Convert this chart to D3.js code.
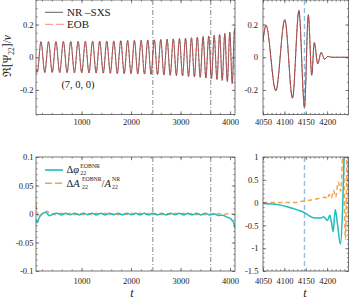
<!DOCTYPE html>
<html><head><meta charset="utf-8">
<script src="https://cdn.jsdelivr.net/npm/d3@7"></script>
<style>
body{margin:0;background:#fff}
svg{display:block}
text{font-family:"Liberation Serif","DejaVu Serif",serif;fill:#222}
</style>
</head><body>
<svg id="c" width="349" height="299"></svg>
<script>
// ---------------- data ----------------
// Inspiral waveform extrema  [t, Re(Psi22)/nu]
const nrInspiral = [[80,-0.07],[105,-0.092],[181,0.095],[257,-0.093],[333,0.095],[408,-0.093],[483,0.096],[558,-0.094],[633,0.096],[708,-0.094],[782,0.096],[856,-0.095],[930,0.097],[1004,-0.095],[1077,0.097],[1150,-0.096],[1223,0.098],[1295,-0.096],[1367,0.098],[1439,-0.097],[1510,0.099],[1581,-0.098],[1652,0.100],[1722,-0.099],[1792,0.101],[1862,-0.100],[1931,0.102],[2000,-0.101],[2068,0.103],[2136,-0.102],[2204,0.104],[2271,-0.103],[2338,0.106],[2404,-0.105],[2470,0.107],[2535,-0.106],[2600,0.109],[2664,-0.108],[2728,0.110],[2791,-0.110],[2854,0.112],[2916,-0.112],[2978,0.114],[3040,-0.114],[3101,0.116],[3161,-0.117],[3221,0.119],[3280,-0.120],[3339,0.122],[3397,-0.123],[3455,0.126],[3512,-0.127],[3569,0.130],[3625,-0.131],[3680,0.134],[3735,-0.136],[3789,0.139],[3842,-0.141],[3894,0.145],[3945,-0.148],[3995,0.153],[4044,-0.160],[4092,0.175],[4100,0.17]];
const eobInspiral = [[80,-0.07],[105,-0.092],[181,0.095],[257,-0.093],[333,0.095],[408,-0.093],[483,0.096],[558,-0.094],[633,0.096],[708,-0.094],[782,0.096],[856,-0.095],[930,0.097],[1004,-0.095],[1077,0.097],[1150,-0.096],[1223,0.098],[1295,-0.096],[1367,0.098],[1439,-0.097],[1510,0.099],[1581,-0.098],[1652,0.100],[1722,-0.099],[1792,0.101],[1862,-0.100],[1931,0.102],[2000,-0.101],[2068,0.103],[2136,-0.102],[2204,0.104],[2271,-0.103],[2338,0.106],[2404,-0.105],[2470,0.107],[2535,-0.106],[2600,0.109],[2664,-0.108],[2728,0.110],[2791,-0.110],[2854,0.112],[2916,-0.112],[2978,0.114],[3040,-0.114],[3101,0.116],[3161,-0.117],[3221,0.119],[3280,-0.120],[3339,0.122],[3397,-0.123],[3455,0.126],[3512,-0.127],[3569,0.130],[3625,-0.131],[3680,0.134],[3735,-0.136],[3789,0.139],[3842,-0.141],[3894,0.145],[3945,-0.148],[3995,0.153],[4044,-0.160],[4092,0.175],[4100,0.17]];
// Merger / ringdown extrema
const nrMerger = [[4050,0.10],[4057,0.195],[4080,-0.205],[4101,0.23],[4119,-0.25],[4134,0.285],[4147,-0.305],[4156,0.26],[4164,-0.11],[4170,0.09],[4178,-0.04],[4186,0.03],[4194,-0.012],[4202,0.006],[4210,0],[4250,0]];
const eobMerger = [[4050,0.10],[4057,0.195],[4080,-0.205],[4101,0.23],[4119,-0.25],[4134,0.285],[4147,-0.305],[4156,0.255],[4164,-0.105],[4170,0.085],[4178,-0.035],[4186,0.025],[4194,-0.01],[4202,0.004],[4210,0],[4250,0]];
// Phase difference (cyan) and relative amplitude difference (orange)
const phaseDiff = [[80,-0.011],[106,-0.015],[140,-0.007],[200,0.000],[280,0.003],[350,-0.003],[420,0.000],[508,0.0015],[596,-0.0015],[684,0.0015],[772,-0.0012],[860,0.0015],[948,-0.0015],[1036,0.0015],[1124,-0.0013],[1212,0.0015],[1300,-0.0015],[1388,0.0014],[1476,-0.0015],[1564,0.0015],[1652,-0.0014],[1740,0.0015],[1828,-0.0015],[1916,0.0015],[2004,-0.0013],[2092,0.0015],[2180,-0.0015],[2268,0.0014],[2356,-0.0015],[2444,0.0015],[2532,-0.0015],[2620,0.0014],[2708,-0.0015],[2796,0.0015],[2884,-0.0014],[2972,0.0015],[3060,-0.0015],[3148,0.0013],[3236,-0.0015],[3324,0.0014],[3412,-0.0016],[3500,0.0012],[3588,-0.0018],[3676,0.0003],[3764,-0.0028],[3852,-0.002],[3940,-0.0055],[4000,-0.0075],[4050,-0.012],[4080,-0.017],[4100,-0.025]];
const ampDiff = [[80,0.017],[95,0.008],[125,-0.006],[180,-0.002],[240,0.003],[300,0.005],[360,0.001],[420,-0.001],[508,-0.0010],[596,0.0012],[684,-0.0012],[772,0.0012],[860,-0.0012],[948,0.0012],[1036,-0.0012],[1124,0.0011],[1212,-0.0012],[1300,0.0012],[1388,-0.0011],[1476,0.0012],[1564,-0.0012],[1652,0.0012],[1740,-0.0012],[1828,0.0012],[1916,-0.0011],[2004,0.0012],[2092,-0.0012],[2180,0.0012],[2268,-0.0012],[2356,0.0011],[2444,-0.0012],[2532,0.0012],[2620,-0.0012],[2708,0.0012],[2796,-0.0011],[2884,0.0012],[2972,-0.0012],[3060,0.0012],[3148,-0.0012],[3236,0.0011],[3324,-0.0012],[3412,0.0012],[3500,-0.0012],[3588,0.0011],[3676,-0.0011],[3764,0.0010],[3852,-0.0010],[3940,0.0005],[4000,-0.0005],[4050,0.0],[4100,-0.002]];
const phaseDiffMerger = [[4050,-0.02],[4070,-0.03],[4090,-0.05],[4110,-0.1],[4130,-0.16],[4147,-0.22],[4160,-0.3],[4172,-0.34],[4185,-0.34],[4192,-0.31],[4197,-0.36],[4201,-0.39],[4206,-0.28],[4210,-0.42],[4214,-0.64],[4219,-0.15],[4224,-0.45],[4231,-0.91],[4236,-0.2],[4240,1.05],[4244,1.6]];
const ampDiffMerger = [[4050,0.0],[4090,0.0],[4130,0.0],[4140,0.03],[4150,0.04],[4170,0.07],[4185,0.1],[4195,0.12],[4200,0.08],[4205,0.18],[4210,0.1],[4215,0.27],[4220,0.12],[4226,0.45],[4232,0.25],[4237,1.1],[4243,-0.8],[4247,1.1],[4250,-0.5]];
// markers and ticks
const leftMarkers = [2440, 3610];
const rightMarker = [4147];
const xTicksLeft = [1000, 2000, 3000, 4000];
const xTicksRight = [4050, 4100, 4150, 4200];
const yTicksTop = [-0.2, 0, 0.2];
const yTicksBL = [-0.1, -0.05, 0, 0.05, 0.1];
const yTicksBR = [-1.5, -1, -0.5, 0, 0.5, 1];

// ---------------- drawing ----------------
const svg = d3.select("#c");
const FRAME = "#555";
const panels = {
  tl:{x:[36,235], y:[0,114.5], xd:[80,4100], yd:[-0.35,0.35], xt:xTicksLeft, xm:d3.range(200,4100,200), yt:yTicksTop, ym:d3.range(-0.35,0.351,0.05), xpad:4.5, ypad:2.5},
  tr:{x:[263,348.5], y:[0,114.5], xd:[4050,4250], yd:[-0.35,0.35], xt:xTicksRight, xm:d3.range(4050,4251,10), yt:yTicksTop, ym:d3.range(-0.35,0.351,0.05), xpad:4.5, ypad:5},
  bl:{x:[36,235], y:[157,271], xd:[80,4100], yd:[-0.1,0.1], xt:xTicksLeft, xm:d3.range(200,4100,200), yt:yTicksBL, ym:d3.range(-0.1,0.1001,0.01), xpad:7, ypad:2.5},
  br:{x:[263,348.5], y:[157,271], xd:[4050,4250], yd:[-1.5,1], xt:xTicksRight, xm:d3.range(4050,4251,10), yt:yTicksBR, ym:d3.range(-1.5,1.001,0.1), xpad:7, ypad:4.5}
};

function setup(key){
  const p = panels[key];
  const x = d3.scaleLinear().domain(p.xd).range(p.x);
  const y = d3.scaleLinear().domain(p.yd).range([p.y[1], p.y[0]]);
  const g = svg.append("g");
  svg.append("clipPath").attr("id","clip-"+key).append("rect")
    .attr("x",p.x[0]).attr("y",p.y[0]).attr("width",p.x[1]-p.x[0]).attr("height",p.y[1]-p.y[0]);
  const plot = g.append("g").attr("clip-path","url(#clip-"+key+")");
  return {p,x,y,g,plot};
}

function axes(P){
  const {p,x,y,g} = P;
  const fmt = v => String(Math.round(v*1000)/1000);
  const style = sel => {
    sel.select(".domain").remove();
    sel.attr("color",FRAME).attr("font-family",null).attr("font-size",null);
    sel.selectAll("line").attr("stroke-width",0.7);
    sel.selectAll("text").style("font-size","8.5px").attr("fill","#222");
  };
  // minor
  g.append("g").attr("transform",`translate(0,${p.y[1]})`).call(d3.axisBottom(x).tickValues(p.xm).tickSize(-1.6).tickFormat("")).call(style);
  g.append("g").attr("transform",`translate(0,${p.y[0]})`).call(d3.axisTop(x).tickValues(p.xm).tickSize(-1.6).tickFormat("")).call(style);
  g.append("g").attr("transform",`translate(${p.x[0]},0)`).call(d3.axisLeft(y).tickValues(p.ym).tickSize(-1.6).tickFormat("")).call(style);
  g.append("g").attr("transform",`translate(${p.x[1]},0)`).call(d3.axisRight(y).tickValues(p.ym).tickSize(-1.6).tickFormat("")).call(style);
  // major
  g.append("g").attr("transform",`translate(0,${p.y[1]})`).call(d3.axisBottom(x).tickValues(p.xt).tickSize(-3.2).tickPadding(p.xpad).tickFormat(fmt)).call(style);
  g.append("g").attr("transform",`translate(0,${p.y[0]})`).call(d3.axisTop(x).tickValues(p.xt).tickSize(-3.2).tickFormat("")).call(style);
  g.append("g").attr("transform",`translate(${p.x[0]},0)`).call(d3.axisLeft(y).tickValues(p.yt).tickSize(-3.2).tickPadding(p.ypad).tickFormat(fmt)).call(style);
  g.append("g").attr("transform",`translate(${p.x[1]},0)`).call(d3.axisRight(y).tickValues(p.yt).tickSize(-3.2).tickFormat("")).call(style);
  g.append("rect").attr("x",p.x[0]).attr("y",p.y[0]).attr("width",p.x[1]-p.x[0]).attr("height",p.y[1]-p.y[0])
    .attr("fill","none").attr("stroke",FRAME).attr("stroke-width",0.8);
}

function vlines(P, ts, color, width, dash){
  P.plot.selectAll(null).data(ts).enter().append("line")
    .attr("x1",d=>P.x(d)).attr("x2",d=>P.x(d)).attr("y1",P.p.y[0]).attr("y2",P.p.y[1])
    .attr("stroke",color).attr("stroke-width",width).attr("stroke-dasharray",dash);
}
function curve(P, data, color, width, dash){
  const line = d3.line().x(d=>P.x(d[0])).y(d=>P.y(d[1])).curve(d3.curveMonotoneX);
  P.plot.append("path").datum(data).attr("d",line).attr("fill","none")
    .attr("stroke",color).attr("stroke-width",width).attr("stroke-dasharray",dash||null);
}

const NRC = "#3a3a3a", EOBC = "#f04848", CY = "#1fbdbd", OR = "#f6a24a", BLUE = "#8fbde0", DD = "#555";

const TL = setup("tl");
vlines(TL, leftMarkers, DD, 0.7, "5,2,1,2");
curve(TL, nrInspiral, NRC, 0.8);
curve(TL, eobInspiral, EOBC, 0.8, "3,2");
axes(TL);

const TR = setup("tr");
vlines(TR, rightMarker, BLUE, 1.4, "5,3");
curve(TR, nrMerger, NRC, 0.9);
curve(TR, eobMerger, EOBC, 0.9, "3,2");
axes(TR);

const BL = setup("bl");
vlines(BL, leftMarkers, DD, 0.7, "5,2,1,2");
curve(BL, ampDiff, OR, 1.4, "4.5,3");
curve(BL, phaseDiff, CY, 1.5);
axes(BL);

const BR = setup("br");
vlines(BR, rightMarker, BLUE, 1.4, "5,3");
curve(BR, ampDiffMerger, OR, 1.5, "4.5,3");
curve(BR, phaseDiffMerger, CY, 1.5);
axes(BR);

// ---------------- labels & legends ----------------
// y label
const yl = svg.append("text").attr("transform","translate(11,56) rotate(-90)")
  .attr("text-anchor","middle").style("font-size","11.5px");
yl.append("tspan").text("ℜ[Ψ");
yl.append("tspan").attr("dy",2.5).style("font-size","7.5px").text("22");
yl.append("tspan").attr("dy",-2.5).text("]/");
yl.append("tspan").style("font-style","italic").text("ν");

// top legend
svg.append("line").attr("x1",45).attr("x2",63).attr("y1",12.3).attr("y2",12.3).attr("stroke",NRC).attr("stroke-width",0.8);
svg.append("line").attr("x1",45).attr("x2",65).attr("y1",24.3).attr("y2",24.3).attr("stroke","#f58a8a").attr("stroke-width",1).attr("stroke-dasharray","8,3");
svg.append("text").attr("x",67).attr("y",15.5).style("font-size","11px").text("NR –SXS");
svg.append("text").attr("x",67).attr("y",28).style("font-size","11px").text("EOB");
svg.append("text").attr("x",78).attr("y",88).attr("text-anchor","middle").style("font-size","10.5px").text("(7, 0, 0)");

// bottom legend
svg.append("line").attr("x1",45).attr("x2",63).attr("y1",170).attr("y2",170).attr("stroke",CY).attr("stroke-width",1.6);
svg.append("line").attr("x1",45).attr("x2",65).attr("y1",183.3).attr("y2",183.3).attr("stroke",OR).attr("stroke-width",1.5).attr("stroke-dasharray","7,3");
function supsub(x, base, sup, sub){
  svg.append("text").attr("x",x).attr("y",base-5.5).style("font-size","5.8px").text(sup);
  svg.append("text").attr("x",x).attr("y",base+2.2).style("font-size","5.8px").text(sub);
}
svg.append("text").attr("x",66.5).attr("y",173).style("font-size","10.5px").html("Δ<tspan font-style='italic'>φ</tspan>");
supsub(80.3, 173, "EOBNR", "22");
svg.append("text").attr("x",66.5).attr("y",186.5).style("font-size","10.5px").html("Δ<tspan font-style='italic'>A</tspan>");
supsub(82, 186.5, "EOBNR", "22");
svg.append("text").attr("x",101.5).attr("y",186.5).style("font-size","10.5px").html("/<tspan font-style='italic'>A</tspan>");
supsub(112, 186.5, "NR", "22");

// x labels
svg.append("text").attr("x",132).attr("y",297).attr("text-anchor","middle").style("font-size","12px").style("font-style","italic").text("t");
svg.append("text").attr("x",305).attr("y",297).attr("text-anchor","middle").style("font-size","12px").style("font-style","italic").text("t");
</script>
</body></html>
